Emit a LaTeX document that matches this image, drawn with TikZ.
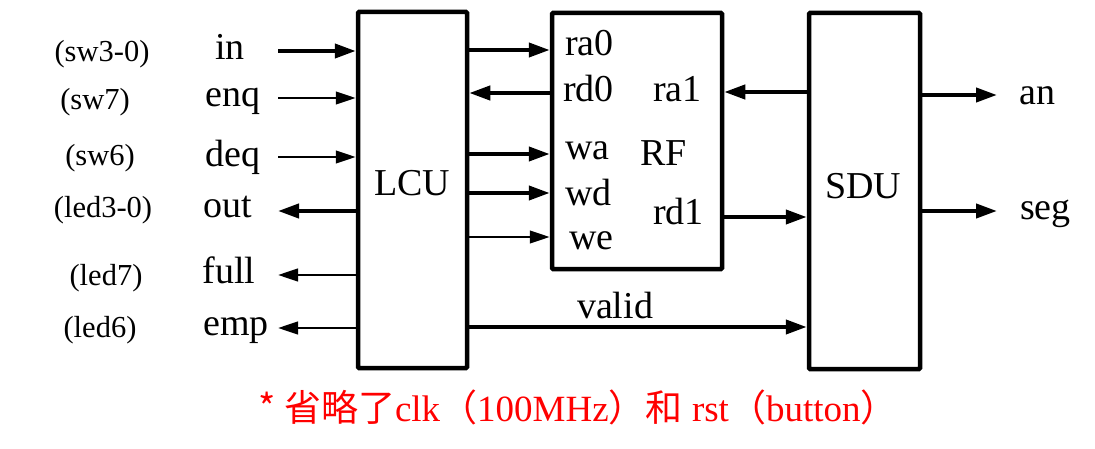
\documentclass[tikz,border=0pt]{standalone}
\usepackage{fontspec}
\setmainfont{Liberation Serif}
\newfontfamily\cjk{Noto Sans CJK SC}
\usetikzlibrary{arrows.meta}

\begin{document}
\begin{tikzpicture}[x=1pt, y=-1pt,
  blk/.style={draw, line width=4.5pt, rounded corners=1pt, inner sep=0pt},
  big/.style={line width=4pt, -{Triangle[length=21pt, width=14pt]}},
  small/.style={line width=2.7pt, -{Triangle[length=20pt, width=12.5pt]}},
  sig/.style={font=\fontsize{38}{40}\selectfont, inner sep=0pt},
  pin/.style={font=\fontsize{30.5}{32}\selectfont, inner sep=0pt}]
  \useasboundingbox (0,0) rectangle (1095,449);
  % blocks
  \node[blk, minimum width=109pt, minimum height=356pt] (lcu) at (412.5,190) {};
  \node[blk, minimum width=170pt, minimum height=256pt] (rf) at (637,141) {};
  \node[blk, minimum width=111pt, minimum height=356pt] (sdu) at (864.5,191) {};
  \node[sig, anchor=base] (tlcu) at (412,196) {LCU};
  \node[sig, anchor=base west] (trf) at (640,166) {RF};
  \node[sig, anchor=base] (tsdu) at (863,199) {SDU};
  % board side signals
  \node[sig, anchor=base] (lin) at (230,60) {in};
  \node[sig, anchor=base] (lenq) at (233,107) {enq};
  \node[sig, anchor=base] (ldeq) at (233,167) {deq};
  \node[sig, anchor=base] (lout) at (228,218) {out};
  \node[sig, anchor=base] (lfull) at (229,283) {full};
  \node[sig, anchor=base] (lemp) at (236,335) {emp};
  \node[pin, anchor=base] (psw30) at (102,62) {(sw3-0)};
  \node[pin, anchor=base] (psw7) at (95,110) {(sw7)};
  \node[pin, anchor=base] (psw6) at (100,166) {(sw6)};
  \node[pin, anchor=base] (pled30) at (103,218) {(led3-0)};
  \node[pin, anchor=base] (pled7) at (106,285) {(led7)};
  \node[pin, anchor=base] (pled6) at (100,337) {(led6)};
  % free ends of the board arrows
  \coordinate (ein) at (278,51);
  \coordinate (eenq) at (278,98);
  \coordinate (edeq) at (278,157);
  \coordinate (eout) at (278,211);
  \coordinate (efull) at (278,275);
  \coordinate (eemp) at (278,328);
  \draw[big] (ein) -- (ein -| lcu.west);
  \draw[small] (eenq) -- (eenq -| lcu.west);
  \draw[small] (edeq) -- (edeq -| lcu.west);
  \draw[big] (eout -| lcu.west) -- (eout);
  \draw[small] (efull -| lcu.west) -- (efull);
  \draw[small] (eemp -| lcu.west) -- (eemp);
  % register file ports
  \node[sig, anchor=base west] (lra0) at (565,56) {ra0};
  \node[sig, anchor=base west] (lrd0) at (563,102) {rd0};
  \node[sig, anchor=base west] (lwa) at (565,160) {wa};
  \node[sig, anchor=base west] (lwd) at (565,206) {wd};
  \node[sig, anchor=base west] (lwe) at (569,250) {we};
  \node[sig, anchor=base west] (lra1) at (653,102) {ra1};
  \node[sig, anchor=base west] (lrd1) at (653,225) {rd1};
  \coordinate (pra0) at (552,50);
  \coordinate (prd0) at (552,93);
  \coordinate (pwa) at (552,154);
  \coordinate (pwd) at (552,193);
  \coordinate (pwe) at (552,237);
  \coordinate (pra1) at (722,92);
  \coordinate (prd1) at (722,217);
  \draw[big] (pra0 -| lcu.east) -- (pra0 -| rf.west);
  \draw[big] (prd0 -| rf.west) -- (prd0 -| lcu.east);
  \draw[big] (pwa -| lcu.east) -- (pwa -| rf.west);
  \draw[big] (pwd -| lcu.east) -- (pwd -| rf.west);
  \draw[small] (pwe -| lcu.east) -- (pwe -| rf.west);
  \draw[big] (pra1 -| sdu.west) -- (pra1 -| rf.east);
  \draw[big] (prd1 -| rf.east) -- (prd1 -| sdu.west);
  % valid line
  \coordinate (pvalid) at (809,327);
  \draw[big] (pvalid -| lcu.east) -- (pvalid -| sdu.west);
  \node[sig, anchor=base] (lvalid) at (615,318) {valid};
  % display outputs
  \coordinate (ean) at (997,95);
  \coordinate (eseg) at (997,211);
  \draw[big] (ean -| sdu.east) -- (ean);
  \draw[big] (eseg -| sdu.east) -- (eseg);
  \node[sig, anchor=base west] (lan) at (1019,105) {an};
  \node[sig, anchor=base west] (lseg) at (1020,220) {seg};
  % note
  \node[anchor=base, text=red, inner sep=0pt, font=\fontsize{37}{39}\selectfont] (note) at (578,421)
    {{\cjk * 省略了}clk{\cjk （}100MHz{\cjk ）和} rst{\cjk （}button{\cjk ）}};
\end{tikzpicture}
\end{document}
